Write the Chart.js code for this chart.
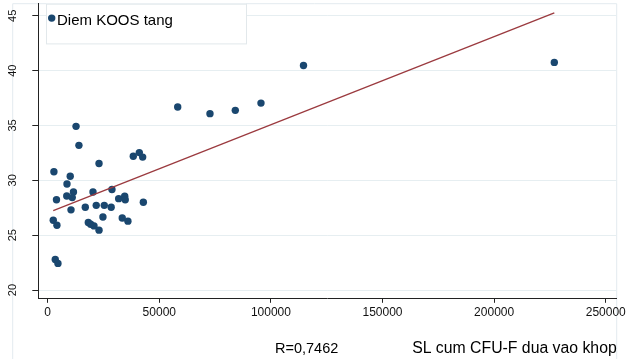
<!DOCTYPE html>
<html>
<head>
<meta charset="utf-8">
<script src="https://cdn.jsdelivr.net/npm/chart.js@4/dist/chart.umd.min.js"></script>
<style>
  html, body { margin: 0; padding: 0; background: #ffffff; }
  #wrap { width: 627px; height: 359px; }
</style>
</head>
<body>
<div id="wrap"><canvas id="c" width="627" height="359"></canvas></div>
<script>
// ---- data ----
const seriesLabel = 'Diem KOOS tang';
const cfuValues = [12700, 14000, 2800, 10100, 8650, 23000, 38350, 41050, 42550, 11550,
                   8550, 11000, 20300, 28800, 3950, 10450, 16850, 21750, 25350, 28450,
                   31800, 34500, 34750, 42850, 2500, 4150, 18200, 19250, 20750, 24750,
                   33400, 35950, 23000, 3400, 4600, 58250, 72700, 84050, 95550, 114600,
                   226950];
const koosValues = [34.92, 33.19, 30.78, 30.37, 29.67, 31.53, 32.19, 32.53, 32.12, 28.94,
                    28.58, 28.43, 28.94, 29.16, 28.23, 27.31, 27.55, 27.72, 27.72, 27.55,
                    28.33, 28.55, 28.23, 28.01, 26.37, 25.91, 26.16, 26.00, 25.85, 26.66,
                    26.57, 26.28, 25.46, 22.79, 22.43, 36.68, 36.08, 36.38, 37.04, 40.47,
                    40.75];
const fitX = [2500, 226950];
const fitY = [27.24, 45.27];
const xTickValues = [0, 50000, 100000, 150000, 200000, 250000];
const xTickLabels = ['0', '50000', '100000', '150000', '200000', '250000'];
const yTickValues = [20, 25, 30, 35, 40, 45];
const yTickLabels = ['20', '25', '30', '35', '40', '45'];
const xAxisTitle = 'SL cum CFU-F dua vao khop';
const noteText = 'R=0,7462';

// ---- styles ----
const FONT = "'Liberation Sans', Arial, Helvetica, sans-serif";
const NAVY = '#1a476f';
const MAROON = '#9b3a3f';
const GRID = '#e6eef1';
const FRAME = '#e3ebef';

const points = cfuValues.map((x, i) => ({ x: x, y: koosValues[i] }));
const fitPoints = fitX.map((x, i) => ({ x: x, y: fitY[i] }));

const framePlugin = {
  id: 'frame',
  beforeDraw(chart) {
    const ca = chart.chartArea, ctx = chart.ctx;
    ctx.save();
    ctx.strokeStyle = FRAME;
    ctx.lineWidth = 1;
    ctx.beginPath();
    ctx.moveTo(ca.left - 25.6, chart.height + 2);
    ctx.lineTo(ca.left - 25.6, ca.top);
    ctx.lineTo(ca.right, ca.top);
    ctx.lineTo(ca.right, chart.height + 2);
    ctx.stroke();
    ctx.restore();
  }
};

const legendBoxPlugin = {
  id: 'legendBox',
  afterDatasetsDraw(chart) {
    const ca = chart.chartArea, ctx = chart.ctx;
    const ds = chart.data.datasets[1];
    const bx = ca.left + 7.7, by = ca.top, bw = 200, bh = 39.7;
    ctx.save();
    ctx.fillStyle = '#ffffff';
    ctx.fillRect(bx, by, bw, bh);
    ctx.strokeStyle = '#e2e8eb';
    ctx.lineWidth = 1;
    ctx.strokeRect(bx + 0.5, by + 0.5, bw, bh);
    ctx.fillStyle = ds.backgroundColor;
    ctx.beginPath();
    ctx.arc(bx + 5.7, by + 14.4, 3.7, 0, Math.PI * 2);
    ctx.fill();
    ctx.fillStyle = '#000000';
    ctx.font = '15px ' + FONT;
    ctx.textBaseline = 'middle';
    ctx.textAlign = 'left';
    ctx.fillText(ds.label, bx + 11, by + 17);
    ctx.restore();
  }
};

const notePlugin = {
  id: 'note',
  afterDraw(chart) {
    const ca = chart.chartArea, ctx = chart.ctx;
    ctx.save();
    ctx.fillStyle = '#000000';
    ctx.font = '14.5px ' + FONT;
    ctx.textBaseline = 'alphabetic';
    ctx.textAlign = 'left';
    ctx.fillText(noteText, ca.left + 236.7, chart.height - 5.7);
    ctx.restore();
  }
};

new Chart(document.getElementById('c'), {
  type: 'scatter',
  data: {
    datasets: [
      {
        type: 'line',
        label: 'Fitted values',
        data: fitPoints,
        borderColor: MAROON,
        borderWidth: 1.3,
        pointRadius: 0,
        fill: false,
        tension: 0,
        order: 1
      },
      {
        label: seriesLabel,
        data: points,
        backgroundColor: NAVY,
        borderColor: NAVY,
        borderWidth: 0,
        pointRadius: 3.7,
        pointHoverRadius: 3.7,
        order: 2
      }
    ]
  },
  options: {
    responsive: false,
    devicePixelRatio: 1,
    animation: false,
    layout: { padding: { left: 0, right: 10.3, top: 3.3, bottom: 0 } },
    plugins: {
      legend: { display: false },
      tooltip: { enabled: false },
      title: { display: false }
    },
    scales: {
      x: {
        type: 'linear',
        position: 'bottom',
        min: -4200,
        max: 254900,
        afterBuildTicks(scale) { scale.ticks = xTickValues.map(v => ({ value: v })); },
        afterFit(scale) { scale.height = 60.7; scale.paddingLeft = 0; scale.paddingRight = 0; },
        grid: { drawOnChartArea: false, drawTicks: true, tickLength: 4.5, tickColor: '#222222', tickWidth: 1 },
        border: { display: true, color: '#222222', width: 1 },
        ticks: {
          autoSkip: false, maxRotation: 0, minRotation: 0, padding: 3,
          color: '#111111', font: { family: FONT, size: 12 },
          callback(value) { const i = xTickValues.indexOf(value); return i >= 0 ? xTickLabels[i] : ''; }
        },
        title: {
          display: true, text: xAxisTitle, align: 'end', color: '#000000',
          font: { family: FONT, size: 15.8 }, padding: { top: 0, bottom: 1 }
        }
      },
      y: {
        type: 'linear',
        position: 'left',
        min: 19.25,
        max: 46.1,
        afterBuildTicks(scale) { scale.ticks = yTickValues.map(v => ({ value: v })); },
        afterFit(scale) { scale.width = 38.3; scale.paddingTop = 0; scale.paddingBottom = 0; },
        grid: { color: GRID, lineWidth: 1, drawTicks: true, tickLength: 6, tickColor: '#222222', tickWidth: 1 },
        border: { display: true, color: '#222222', width: 1 },
        ticks: {
          autoSkip: false, minRotation: 90, maxRotation: 90, crossAlign: 'center', padding: 12.8,
          color: '#111111', font: { family: FONT, size: 11 },
          callback(value) { const i = yTickValues.indexOf(value); return i >= 0 ? yTickLabels[i] : ''; }
        }
      }
    }
  },
  plugins: [framePlugin, legendBoxPlugin, notePlugin]
});
</script>
</body>
</html>
